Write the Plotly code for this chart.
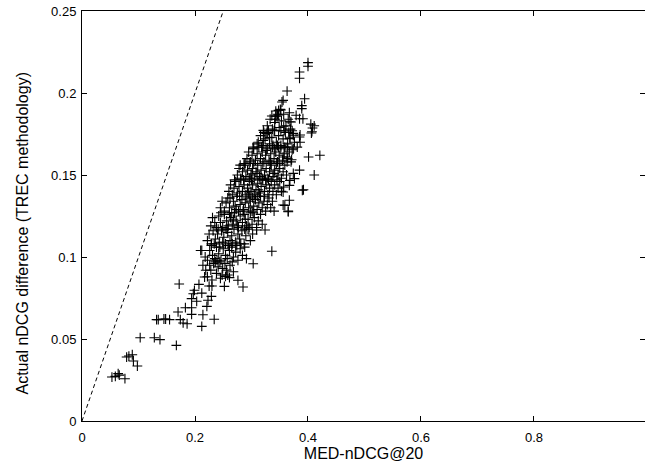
import plotly.graph_objects as go

# Sparse / outlying points (MED-nDCG@20, actual nDCG difference)
sparse_x = [0.053, 0.059, 0.064, 0.066, 0.076, 0.079, 0.083, 0.089, 0.091, 0.098,
            0.103, 0.128, 0.138, 0.167, 0.132, 0.135, 0.145, 0.148, 0.155, 0.172,
            0.170, 0.174, 0.179, 0.186, 0.183, 0.194, 0.194, 0.199, 0.197, 0.203,
            0.194, 0.212, 0.214, 0.212, 0.207, 0.210, 0.221, 0.223, 0.229, 0.234,
            0.225, 0.230, 0.214, 0.217, 0.219, 0.252, 0.254, 0.261, 0.276, 0.285,
            0.303, 0.336, 0.365, 0.367, 0.390, 0.411, 0.421, 0.401, 0.406, 0.408,
            0.411, 0.405, 0.394, 0.389, 0.389, 0.385, 0.385, 0.400, 0.400, 0.363,
            0.356, 0.354, 0.379, 0.391, 0.385, 0.370, 0.357, 0.343, 0.348, 0.346,
            0.341, 0.321, 0.332, 0.385, 0.386, 0.374, 0.368, 0.364, 0.372, 0.363,
            0.371, 0.381, 0.385, 0.374, 0.368, 0.376, 0.367, 0.357, 0.356, 0.359,
            0.301, 0.287, 0.310, 0.303, 0.321, 0.352, 0.348, 0.367, 0.342, 0.368,
            0.407, 0.326, 0.374, 0.386, 0.392, 0.365, 0.356, 0.324, 0.309, 0.212]
sparse_y = [0.0268, 0.0272, 0.0289, 0.0280, 0.0258, 0.0390, 0.0396, 0.0404, 0.0366, 0.0335,
            0.0508, 0.0508, 0.0496, 0.0461, 0.0618, 0.0618, 0.0622, 0.0622, 0.0618, 0.0835,
            0.0665, 0.0618, 0.0598, 0.0593, 0.0691, 0.0650, 0.0746, 0.0797, 0.0776, 0.0730,
            0.0691, 0.0577, 0.0648, 0.0780, 0.0833, 0.1040, 0.0699, 0.0736, 0.0760, 0.0620,
            0.0823, 0.0823, 0.0950, 0.0878, 0.0919, 0.0821, 0.0882, 0.0874, 0.0858, 0.0817,
            0.0959, 0.1035, 0.1280, 0.1346, 0.1407, 0.1500, 0.1620, 0.1610, 0.1756, 0.1787,
            0.1800, 0.1810, 0.1965, 0.1905, 0.1923, 0.2090, 0.2128, 0.2185, 0.2163, 0.2012,
            0.1955, 0.1945, 0.1864, 0.1843, 0.1843, 0.1823, 0.1797, 0.1858, 0.1894, 0.1870,
            0.1772, 0.1772, 0.1728, 0.1732, 0.1700, 0.1742, 0.1722, 0.1670, 0.1654, 0.1610,
            0.1593, 0.1670, 0.1530, 0.1510, 0.1467, 0.1478, 0.1437, 0.1427, 0.1396, 0.1315,
            0.1508, 0.1570, 0.1690, 0.1660, 0.1710, 0.1896, 0.1866, 0.1880, 0.1840, 0.1825,
            0.1764, 0.1754, 0.1754, 0.1744, 0.1410, 0.1276, 0.1317, 0.1165, 0.1165, 0.1040]

# Dense core of the cloud
core_x = [
    # y ~ 0.085-0.097
    0.222, 0.228, 0.233, 0.238, 0.241, 0.236, 0.245, 0.249, 0.253, 0.258, 0.262, 0.266,
    0.230, 0.244, 0.256, 0.226, 0.268, 0.248,
    # y ~ 0.097-0.107
    0.218, 0.222, 0.226, 0.231, 0.235, 0.238, 0.242, 0.246, 0.250, 0.254, 0.257, 0.261,
    0.265, 0.268, 0.272, 0.276, 0.280, 0.284, 0.288, 0.291, 0.229, 0.244, 0.259, 0.274, 0.239,
    # y ~ 0.107-0.117
    0.222, 0.225, 0.229, 0.232, 0.236, 0.240, 0.243, 0.247, 0.251, 0.254, 0.258, 0.262,
    0.265, 0.269, 0.272, 0.276, 0.279, 0.283, 0.287, 0.290, 0.294, 0.298, 0.302, 0.234,
    0.249, 0.266, 0.281, 0.255, 0.241, 0.288,
    # y ~ 0.117-0.127
    0.228, 0.231, 0.235, 0.238, 0.242, 0.245, 0.249, 0.252, 0.256, 0.259, 0.263, 0.266,
    0.270, 0.273, 0.277, 0.280, 0.284, 0.287, 0.291, 0.294, 0.298, 0.301, 0.305, 0.309,
    0.312, 0.316, 0.319, 0.246, 0.261, 0.275, 0.289, 0.303, 0.257, 0.268, 0.296,
    # y ~ 0.127-0.137
    0.245, 0.248, 0.252, 0.255, 0.258, 0.261, 0.265, 0.268, 0.271, 0.274, 0.277, 0.280,
    0.283, 0.286, 0.289, 0.292, 0.295, 0.298, 0.301, 0.304, 0.307, 0.310, 0.313, 0.316,
    0.319, 0.322, 0.325, 0.328, 0.331, 0.334, 0.337, 0.340, 0.262, 0.279, 0.296, 0.311,
    0.285, 0.273, 0.302, 0.323,
    # y ~ 0.137-0.147
    0.260, 0.263, 0.266, 0.269, 0.272, 0.275, 0.278, 0.281, 0.284, 0.287, 0.290, 0.293,
    0.296, 0.299, 0.302, 0.305, 0.308, 0.311, 0.314, 0.317, 0.320, 0.323, 0.326, 0.329,
    0.332, 0.335, 0.338, 0.341, 0.344, 0.347, 0.350, 0.353, 0.270, 0.286, 0.300, 0.315,
    0.330, 0.345, 0.295, 0.312,
    # y ~ 0.147-0.157
    0.275, 0.278, 0.281, 0.284, 0.287, 0.290, 0.293, 0.296, 0.299, 0.302, 0.305, 0.308,
    0.311, 0.314, 0.317, 0.320, 0.323, 0.326, 0.329, 0.332, 0.335, 0.338, 0.341, 0.344,
    0.347, 0.350, 0.353, 0.356, 0.359, 0.362, 0.289, 0.304, 0.319, 0.334, 0.349, 0.280,
    0.310, 0.340, 0.325, 0.297,
    # y ~ 0.157-0.167
    0.292, 0.295, 0.298, 0.301, 0.304, 0.307, 0.310, 0.313, 0.316, 0.319, 0.322, 0.325,
    0.328, 0.331, 0.334, 0.337, 0.340, 0.343, 0.346, 0.349, 0.352, 0.355, 0.358, 0.361,
    0.364, 0.367, 0.370, 0.303, 0.318, 0.333, 0.348, 0.363, 0.326, 0.341, 0.356,
    # y ~ 0.167-0.177
    0.312, 0.316, 0.320, 0.324, 0.328, 0.332, 0.336, 0.340, 0.344, 0.348, 0.352, 0.356,
    0.360, 0.364, 0.368, 0.372, 0.376, 0.330, 0.346, 0.358, 0.338, 0.322, 0.352, 0.366, 0.374,
    # y ~ 0.177-0.19
    0.328, 0.333, 0.337, 0.341, 0.345, 0.349, 0.353, 0.357, 0.361, 0.365, 0.369, 0.343,
    0.351, 0.336, 0.358,
]
core_y = [
    0.088, 0.092, 0.096, 0.090, 0.094, 0.097, 0.087, 0.093, 0.096, 0.089, 0.095, 0.097,
    0.086, 0.097, 0.092, 0.095, 0.091, 0.089,
    0.100, 0.098, 0.104, 0.101, 0.099, 0.106, 0.102, 0.098, 0.105, 0.101, 0.099, 0.104,
    0.106, 0.100, 0.103, 0.098, 0.105, 0.101, 0.106, 0.099, 0.107, 0.106, 0.107, 0.107, 0.098,
    0.110, 0.114, 0.108, 0.116, 0.111, 0.114, 0.109, 0.116, 0.112, 0.108, 0.115, 0.110,
    0.113, 0.117, 0.109, 0.114, 0.111, 0.116, 0.108, 0.113, 0.117, 0.110, 0.114, 0.108,
    0.109, 0.108, 0.108, 0.117, 0.117, 0.117,
    0.119, 0.124, 0.121, 0.118, 0.125, 0.121, 0.118, 0.126, 0.122, 0.119, 0.124, 0.120,
    0.127, 0.122, 0.118, 0.125, 0.121, 0.126, 0.119, 0.123, 0.127, 0.120, 0.124, 0.118,
    0.122, 0.126, 0.120, 0.127, 0.127, 0.119, 0.123, 0.127, 0.117, 0.123, 0.118,
    0.130, 0.134, 0.128, 0.133, 0.136, 0.130, 0.127, 0.134, 0.131, 0.137, 0.128, 0.132,
    0.135, 0.129, 0.133, 0.136, 0.130, 0.134, 0.128, 0.131, 0.135, 0.129, 0.133, 0.137,
    0.130, 0.134, 0.128, 0.132, 0.136, 0.130, 0.134, 0.128, 0.136, 0.137, 0.137, 0.137,
    0.128, 0.129, 0.136, 0.137,
    0.140, 0.144, 0.138, 0.142, 0.146, 0.139, 0.143, 0.147, 0.140, 0.144, 0.138, 0.142,
    0.146, 0.140, 0.144, 0.138, 0.141, 0.145, 0.139, 0.143, 0.147, 0.140, 0.144, 0.138,
    0.142, 0.146, 0.140, 0.144, 0.138, 0.142, 0.146, 0.140, 0.147, 0.147, 0.147, 0.147,
    0.147, 0.147, 0.139, 0.141,
    0.150, 0.154, 0.148, 0.152, 0.156, 0.149, 0.153, 0.157, 0.150, 0.154, 0.148, 0.152,
    0.156, 0.149, 0.153, 0.157, 0.150, 0.154, 0.148, 0.152, 0.156, 0.149, 0.153, 0.157,
    0.150, 0.154, 0.148, 0.152, 0.156, 0.150, 0.157, 0.157, 0.148, 0.157, 0.157, 0.156,
    0.151, 0.151, 0.147, 0.148,
    0.160, 0.164, 0.158, 0.162, 0.166, 0.159, 0.163, 0.167, 0.160, 0.164, 0.158, 0.162,
    0.166, 0.159, 0.163, 0.167, 0.160, 0.164, 0.158, 0.162, 0.166, 0.159, 0.163, 0.167,
    0.160, 0.164, 0.158, 0.167, 0.167, 0.158, 0.167, 0.158, 0.165, 0.166, 0.161,
    0.170, 0.174, 0.168, 0.172, 0.176, 0.169, 0.173, 0.177, 0.170, 0.174, 0.168, 0.172,
    0.176, 0.169, 0.173, 0.177, 0.170, 0.177, 0.168, 0.167, 0.168, 0.176, 0.177, 0.176, 0.166,
    0.180, 0.184, 0.178, 0.182, 0.186, 0.179, 0.183, 0.187, 0.180, 0.184, 0.178, 0.189,
    0.190, 0.186, 0.177,
]

diag_x = [0.0, 0.25]
diag_y = [0.0, 0.25]

x_ticks = [0, 0.2, 0.4, 0.6, 0.8]
x_tick_text = ["0", "0.2", "0.4", "0.6", "0.8"]
y_ticks = [0, 0.05, 0.1, 0.15, 0.2, 0.25]
y_tick_text = ["0", "0.05", "0.1", "0.15", "0.2", "0.25"]

marker = dict(symbol="cross-thin", size=7, color="black",
              line=dict(color="black", width=1.1))

fig = go.Figure()
fig.add_trace(go.Scatter(x=diag_x, y=diag_y, mode="lines",
                         line=dict(color="black", width=1, dash="4px,3px"),
                         hoverinfo="skip", showlegend=False))
fig.add_trace(go.Scatter(x=core_x + sparse_x, y=core_y + sparse_y, mode="markers",
                         marker=marker, showlegend=False))

font = "Liberation Sans, Arial, sans-serif"
axis_common = dict(showgrid=False, zeroline=False, showline=True, linecolor="black",
                   linewidth=1, mirror="ticks", ticks="inside", ticklen=5,
                   tickcolor="black", tickwidth=1,
                   tickfont=dict(family=font, size=13, color="black"))

fig.update_layout(
    width=645, height=467,
    margin=dict(l=82, r=0, t=11, b=46),
    paper_bgcolor="white", plot_bgcolor="white",
    xaxis=dict(range=[0, 0.9965], tickvals=x_ticks, ticktext=x_tick_text,
               ticklabelstandoff=4,
               title=dict(text="MED-nDCG@20", font=dict(family=font, size=16, color="black"),
                          standoff=2),
               **axis_common),
    yaxis=dict(range=[0, 0.25], tickvals=y_ticks, ticktext=y_tick_text,
               ticklabelstandoff=2,
               **axis_common),
    annotations=[dict(text="Actual nDCG difference (TREC methodology)",
                      xref="paper", yref="paper", x=0, y=0.4585,
                      xshift=-59.5, xanchor="center", yanchor="middle",
                      textangle=-90, showarrow=False,
                      font=dict(family=font, size=16, color="black"))],
)

fig.write_html("out.html")
